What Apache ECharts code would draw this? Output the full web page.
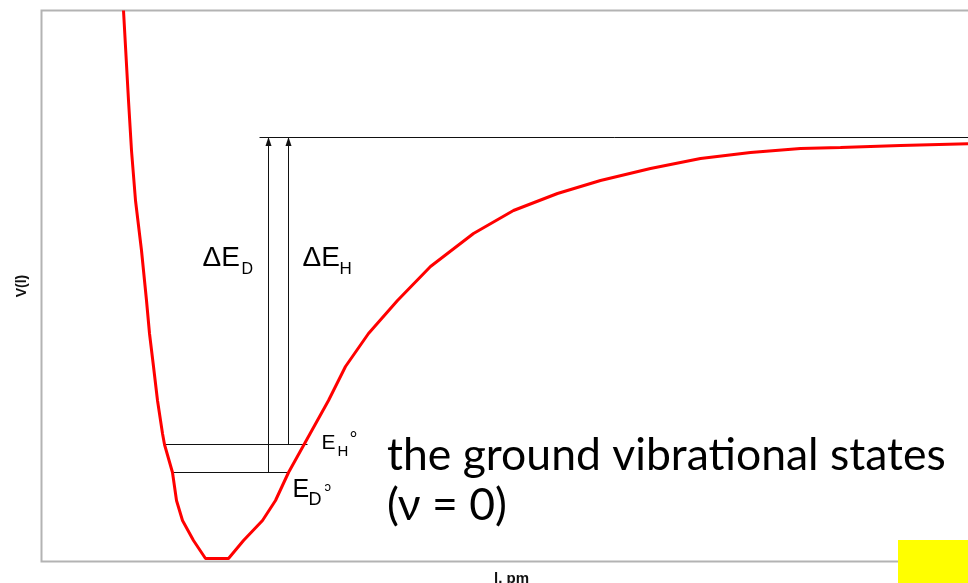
<!DOCTYPE html>
<html>
<head>
<meta charset="utf-8">
<title>Potential energy curve: H vs D zero-point energies</title>
<script src="https://cdn.jsdelivr.net/npm/echarts@6/dist/echarts.min.js"></script>
<style>
  html, body { margin: 0; padding: 0; background: #ffffff; overflow: hidden; }
  #chart { width: 968px; height: 583px; }
</style>
</head>
<body>
<div id="chart"></div>
<script>
// Bond length l (arbitrary pm scale) and potential energy V(l) along the curve
const bondLength = [82, 87, 90, 94, 100, 105, 108, 112, 116, 121, 123, 131, 135, 141, 152, 164, 187, 202, 221, 234,
                    247, 262, 287, 304, 327, 356, 389, 432, 472, 516, 559, 609, 659, 709, 759, 799, 859, 934];
const potential  = [551, 461, 411, 361, 311, 261, 228, 195, 161, 128, 117, 89, 61, 41, 21, 3, 3, 21, 41, 61,
                    89, 116, 161, 195, 228, 261, 295, 328, 351, 368, 381, 393, 403, 409, 413, 414, 416, 418];

// Zero-point levels (E_H°, E_D°) and the dissociation limit
const zeroPointH = 117;
const zeroPointD = 89;
const dissociation = 424;

// Horizontal extent of each level line, and where the ΔE arrows stand
const levelH = [122, 266];
const levelD = [131, 247];
const limitStart = 218;
const limitEnd = 940;
const arrowD = 227;
const arrowH = 247;

const chart = echarts.init(document.getElementById('chart'), null, { renderer: 'canvas' });

const black = '#111111';
function segment(points) {
  return {
    type: 'line', data: points, symbol: 'none', silent: true, animation: false,
    lineStyle: { color: black, width: 1 }, z: 3
  };
}
function arrow(x, from, to) {
  return {
    type: 'line', silent: true, animation: false, z: 4,
    symbol: 'none', showAllSymbol: true,
    lineStyle: { color: black, width: 1 },
    itemStyle: { color: black },
    data: [
      { value: [x, from], symbol: 'none' },
      { value: [x, to], symbol: 'triangle', symbolSize: [6, 9], symbolOffset: [0, 4] }
    ]
  };
}

const sansA = '"Liberation Sans", Arial, sans-serif';

chart.setOption({
  backgroundColor: '#ffffff',
  animation: false,
  grid: {
    // half-pixel offsets keep the 1px level lines crisp
    left: 41.5, top: 10.5, right: -13.5, bottom: 21.5,
    outerBoundsMode: 'none', containLabel: false,
    show: true, borderColor: '#b3b3b3', borderWidth: 2, backgroundColor: 'transparent'
  },
  xAxis: {
    type: 'value', min: 0, max: 940,
    name: 'l, pm', nameLocation: 'middle', nameGap: 10,
    nameTextStyle: { fontFamily: sansA, fontSize: 15, fontWeight: 'bold', color: '#111', verticalAlign: 'top' },
    axisLine: { show: false }, axisTick: { show: false }, axisLabel: { show: false }, splitLine: { show: false }
  },
  yAxis: {
    type: 'value', min: 0, max: 551,
    name: 'V(l)', nameLocation: 'middle', nameGap: 12, nameRotate: 90,
    nameTextStyle: { fontFamily: sansA, fontSize: 14, fontWeight: 'bold', color: '#111' },
    axisLine: { show: false }, axisTick: { show: false }, axisLabel: { show: false }, splitLine: { show: false }
  },
  series: [
    segment([[limitStart, dissociation], [limitEnd, dissociation]]),
    segment([[levelH[0], zeroPointH], [levelH[1], zeroPointH]]),
    segment([[levelD[0], zeroPointD], [levelD[1], zeroPointD]]),
    arrow(arrowD, zeroPointD, dissociation),
    arrow(arrowH, zeroPointH, dissociation),
    {
      name: 'V(l)', type: 'line', symbol: 'none', silent: true, animation: false, z: 5,
      lineStyle: { color: '#ff0000', width: 3 },
      data: bondLength.map((l, i) => [l, potential[i]])
    }
  ]
});

// Text annotations placed relative to the data they describe.
// txt() takes the baseline position; text is laid out from its top edge.
function px(x, y) { return chart.convertToPixel({ gridIndex: 0 }, [x, y]); }
function txt(x, baseline, text, size, family) {
  return {
    type: 'text', x: x, y: baseline - 0.82 * size, silent: true, z: 10,
    style: { text: text, fill: '#000', font: size + 'px ' + family, verticalAlign: 'top' }
  };
}

const pD = px(arrowD, 0), pH = px(arrowH, 0);
const pLevelH = px(levelH[1], zeroPointH), pLevelD = px(levelD[1], zeroPointD);

const calib = 'Lato, "Open Sans", sans-serif';
chart.setOption({
  graphic: [
    // ΔE_D, left of its arrow
    txt(pD[0] - 66, 267, 'ΔE', 28, sansA),
    txt(pD[0] - 27, 275, 'D', 16, sansA),
    // ΔE_H, right of its arrow
    txt(pH[0] + 14, 267, 'ΔE', 28, sansA),
    txt(pH[0] + 51, 275, 'H', 17, sansA),
    // E_H° at the H zero-point level
    txt(pLevelH[0] + 14, 450, 'E', 21, sansA),
    txt(pLevelH[0] + 30, 457, 'H', 15, sansA),
    txt(pLevelH[0] + 42, 447, '°', 20, sansA),
    // E_D° at the D zero-point level
    txt(pLevelD[0] + 4, 498, 'E', 25, sansA),
    txt(pLevelD[0] + 20, 506, 'D', 18, sansA),
    txt(pLevelD[0] + 36, 492, 'ɔ', 13, sansA),
    // Description
    txt(387, 470, 'the ground vibrational states', 44.5, calib),
    txt(387, 520, '(ν = 0)', 44.5, calib),
    // Highlight box in the lower-right corner
    { type: 'rect', shape: { x: 898, y: 540, width: 70, height: 43 }, style: { fill: '#ffff00' }, z: 20, silent: true }
  ]
});
</script>
</body>
</html>
